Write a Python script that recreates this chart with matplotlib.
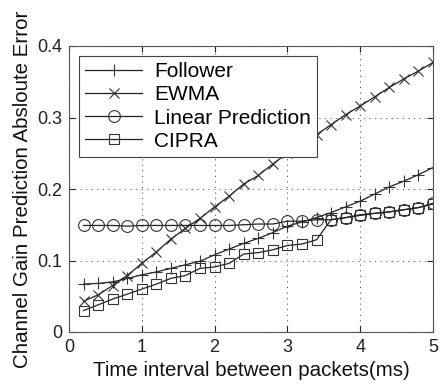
import numpy as np
import matplotlib
matplotlib.use("Agg")
import matplotlib.pyplot as plt

plt.rcParams['font.family'] = ['Liberation Sans', 'DejaVu Sans']

# data
x = np.arange(1, 26) * 0.2

follower = [0.067, 0.068, 0.070, 0.075, 0.080, 0.084, 0.089, 0.094, 0.099, 0.108,
            0.116, 0.124, 0.131, 0.139, 0.148, 0.154, 0.160, 0.167, 0.175, 0.183,
            0.193, 0.203, 0.211, 0.220, 0.230]
ewma = [0.043, 0.052, 0.065, 0.079, 0.096, 0.112, 0.130, 0.145, 0.159, 0.175,
        0.190, 0.207, 0.219, 0.235, 0.250, 0.263, 0.276, 0.290, 0.304, 0.316,
        0.329, 0.342, 0.354, 0.365, 0.377]
linpred = [0.149, 0.149, 0.149, 0.148, 0.149, 0.149, 0.149, 0.149, 0.149, 0.149,
           0.149, 0.150, 0.151, 0.151, 0.155, 0.155, 0.157, 0.157, 0.160, 0.164,
           0.166, 0.168, 0.171, 0.174, 0.180]
cipra = [0.030, 0.038, 0.046, 0.053, 0.060, 0.067, 0.075, 0.079, 0.089, 0.091,
         0.096, 0.109, 0.111, 0.115, 0.121, 0.123, 0.129, 0.157, 0.160, 0.163,
         0.166, 0.168, 0.171, 0.174, 0.179]

series = [
    ("Follower", follower, '+', 9),
    ("EWMA", ewma, 'x', 7),
    ("Linear Prediction", linpred, 'o', 8.5),
    ("CIPRA", cipra, 's', 7),
]

fig = plt.figure(figsize=(4.4, 3.84), dpi=100)
ax = fig.add_axes([69/440, 1 - 332/384, (433-69)/440, (332-46)/384])

for name, vals, mk, ms in series:
    ax.plot(x, vals, color='#222222', lw=0.9, marker=mk, markersize=ms,
            markerfacecolor='none', markeredgecolor='#333333',
            markeredgewidth=0.8, label=name)

ax.set_xlim(0, 5)
ax.set_ylim(0, 0.4)
ax.set_xticks([0, 1, 2, 3, 4, 5])
ax.set_yticks([0, 0.1, 0.2, 0.3, 0.4])
ax.set_yticklabels(['0', '0.1', '0.2', '0.3', '0.4'])
ax.grid(True, linestyle=(0, (1, 4)), color='#555555', lw=0.8)
ax.tick_params(direction='in', labelsize=13, colors='#222222', length=4,
               top=True, right=True, pad=5)
for s in ax.spines.values():
    s.set_color('#555555')
    s.set_linewidth(0.8)

ax.set_xlabel("Time interval between packets(ms)", fontsize=14.8, labelpad=4, color='#111111')
ax.set_ylabel("Channel Gain Prediction Absloute Error", fontsize=14.8, labelpad=4, color='#111111')

leg = ax.legend(loc='upper left', bbox_to_anchor=(0.027, 0.965), fontsize=15,
                fancybox=False, framealpha=1, edgecolor='#444444',
                handlelength=2.75, borderpad=0.3, labelspacing=0.2,
                handletextpad=0.55, borderaxespad=0)
leg.get_frame().set_linewidth(0.8)

plt.savefig("out.png", dpi=100)
plt.close()
